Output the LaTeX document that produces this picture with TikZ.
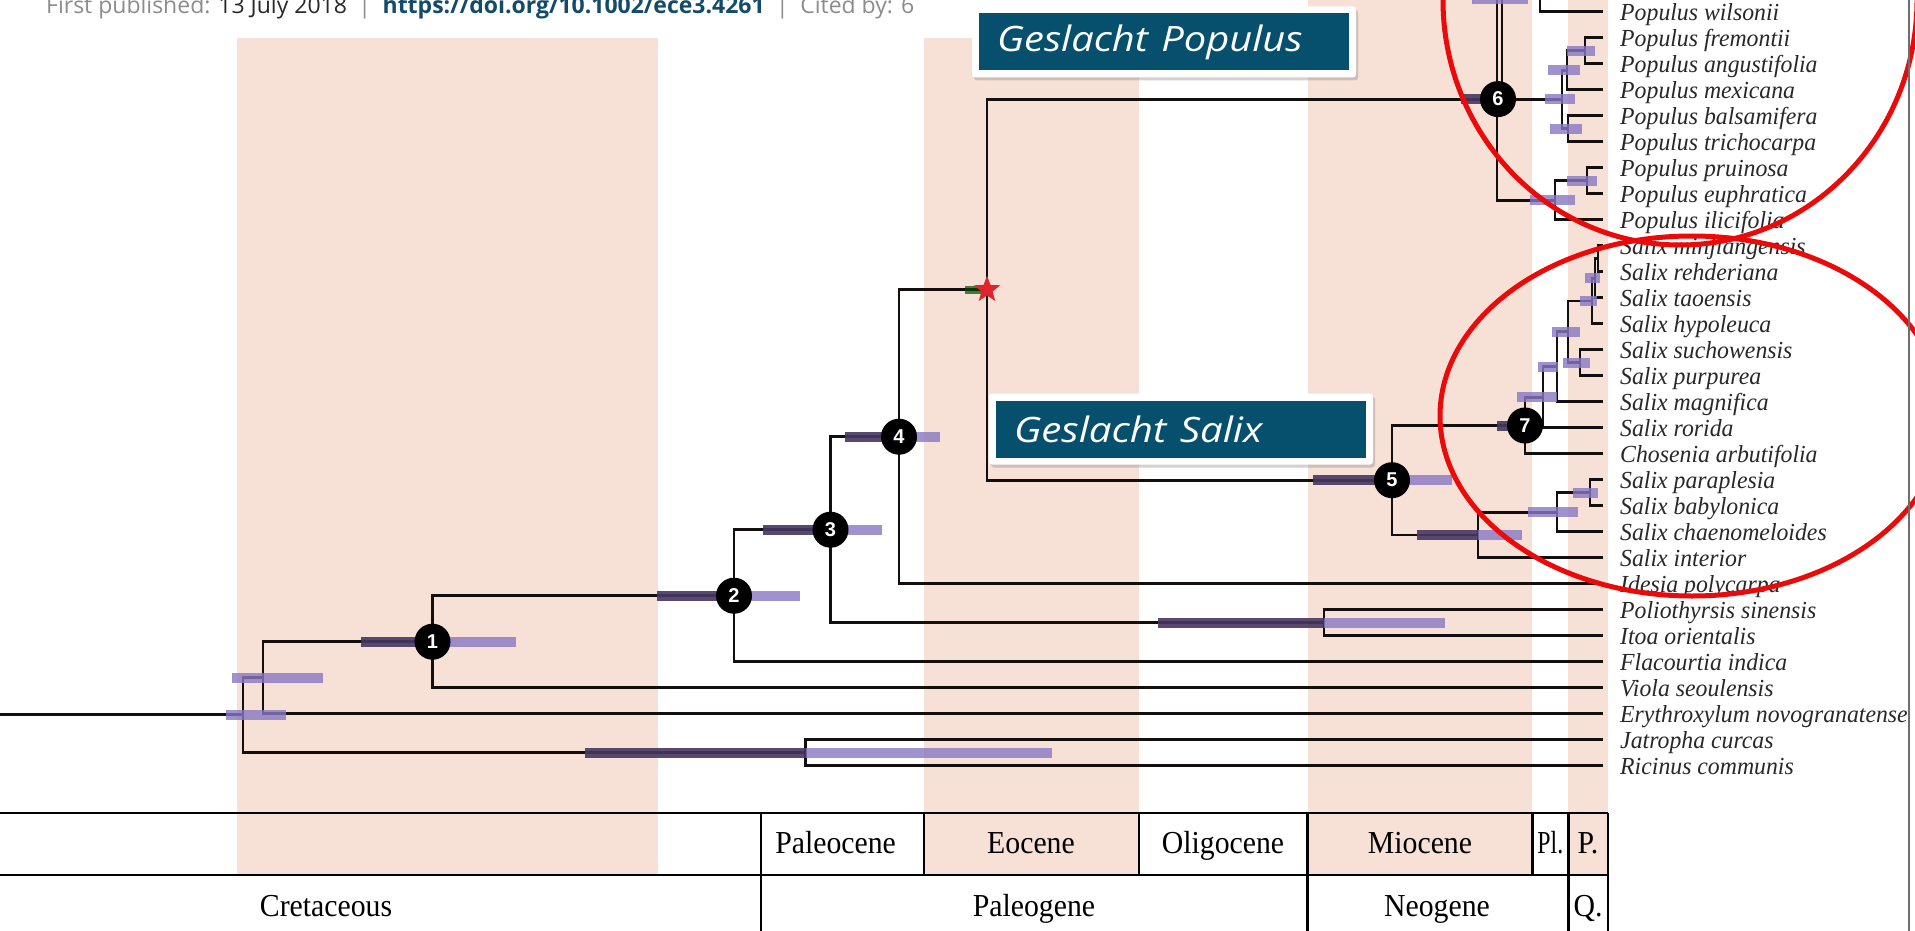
\documentclass[tikz,border=0pt]{standalone}
\usepackage{graphicx}
\usepackage{fontspec}
\setmainfont{Liberation Serif}
\newfontfamily\spfont[FakeStretch=0.97]{Liberation Serif}
\newfontfamily\tsfont[FakeStretch=0.93]{Liberation Serif}
\newfontfamily\hdfont{Open Sans}
\newfontfamily\gsfont{Open Sans}
\newfontfamily\nmfont{Liberation Sans}
\usetikzlibrary{shapes.geometric,shadows}
\definecolor{band}{RGB}{247,224,213}
\definecolor{barlight}{RGB}{135,120,195}
\definecolor{bardark}{RGB}{70,55,95}
\definecolor{gbox}{RGB}{6,80,110}
\definecolor{linkc}{RGB}{20,75,105}
\definecolor{hdgray}{RGB}{140,140,140}
\definecolor{hdtext}{RGB}{40,40,40}
\definecolor{branch}{RGB}{20,15,15}
\definecolor{ered}{RGB}{235,10,10}
\definecolor{sptext}{RGB}{40,40,40}
\newcommand{\hpdbar}[4]{%
  \fill[bardark,opacity=0.9] (#1,#4-5) rectangle (#2,#4+5);
  \fill[barlight,opacity=0.8] (#2,#4-5) rectangle (#3,#4+5);
}
\tikzset{
  br/.style={draw=branch,line width=2.9},
  tiplabel/.style={anchor=base west,inner sep=0,text=sptext,font=\spfont\itshape\fontsize{24.5}{24.5}\selectfont},
  numnode/.style={circle,fill=black,minimum size=36,inner sep=0,text=white,font=\nmfont\bfseries\fontsize{20}{20}\selectfont},
  tslabel/.style={anchor=base,inner sep=0,font=\tsfont\fontsize{32}{32}\selectfont},
  tsline/.style={draw=black,line width=2.4},
  wframe/.style={fill=white,rounded corners=3,minimum width=384,minimum height=71,inner sep=0,drop shadow={shadow xshift=2pt,shadow yshift=-3pt,opacity=0.35}},
  gboxs/.style={fill=gbox,text=white,minimum height=57,text width=334,inner xsep=18,inner ysep=0,align=left,font=\gsfont\itshape\fontsize{35}{35}\selectfont},
  redring/.style={draw=ered,line width=5}
}
\begin{document}
\begin{tikzpicture}[x=1pt,y=-1pt]
\useasboundingbox (0,0) rectangle (1915,931);
\clip (0,0) rectangle (1915,931);
\fill[white] (0,0) rectangle (1915,931);
% bands
\fill[band] (237,38) rectangle (658,875);
\fill[band] (923.7,38) rectangle (1138.8,875);
\fill[band] (1307.5,0) rectangle (1532.4,875);
\fill[band] (1568.3,0) rectangle (1608,875);
% header
\node[anchor=base west,inner sep=0] (hdr) at (46,14) {\hdfont\fontsize{23}{23}\selectfont\color{hdgray}First published: \color{hdtext}13 July 2018\color{hdgray}\enspace|\enspace \textbf{\color{linkc}https://doi.org/10.1002/ece3.4261}\color{hdgray}\enspace|\enspace Cited by: 6};
% time scale
\draw[tsline] (0,813) -- (1608,813);
\draw[tsline] (0,875) -- (1608,875);
\draw[tsline] (761,813) -- (761,931);
\draw[tsline] (923.7,813) -- (923.7,875);
\draw[tsline] (1138.8,813) -- (1138.8,875);
\draw[tsline] (1307.5,813) -- (1307.5,931);
\draw[tsline] (1532.4,813) -- (1532.4,875);
\draw[tsline] (1568.3,813) -- (1568.3,931);
\draw[tsline] (1608,813) -- (1608,931);
\node[tslabel] (paleoc) at (835.6,853.5) {Paleocene};
\node[tslabel] (eoc) at (1031,853.5) {Eocene};
\node[tslabel] (oligoc) at (1223,853.5) {Oligocene};
\node[tslabel] (mioc) at (1420,853.5) {Miocene};
\node[tslabel] (plio) at (1550.3,853.5) {\scalebox{0.8}[1]{Pl.}};
\node[tslabel] (pleis) at (1588,853.5) {P.};
\node[tslabel] (cret) at (326,916) {Cretaceous};
\node[tslabel] (paleog) at (1034,916) {Paleogene};
\node[tslabel] (neog) at (1437,916) {Neogene};
\node[tslabel] (quat) at (1588,916) {Q.};
% tip coordinates and labels
\foreach \k/\nm in {1/Populus wilsonii,2/Populus fremontii,3/Populus angustifolia,4/Populus mexicana,5/Populus balsamifera,6/Populus trichocarpa,7/Populus pruinosa,8/Populus euphratica,9/Populus ilicifolia,10/Salix minjiangensis,11/Salix rehderiana,12/Salix taoensis,13/Salix hypoleuca,14/Salix suchowensis,15/Salix purpurea,16/Salix magnifica,17/Salix rorida,18/Chosenia arbutifolia,19/Salix paraplesia,20/Salix babylonica,21/Salix chaenomeloides,22/Salix interior,23/Idesia polycarpa,24/Poliothyrsis sinensis,25/Itoa orientalis,26/Flacourtia indica,27/Viola seoulensis,28/Erythroxylum novogranatense,29/Jatropha curcas,30/Ricinus communis}{
  \coordinate (t\k) at (1603,{11.7+26*(\k-1)});
  \node[tiplabel] (l\k) at (1620,{20.2+26*(\k-1)}) {\nm};
}
% internal node coordinates
\coordinate (FA) at (1585,50.7);
\coordinate (FAM) at (1567,70.2);
\coordinate (BT) at (1568,128.7);
\coordinate (M2) at (1562,99.1);
\coordinate (PE) at (1587,180.7);
\coordinate (PEI) at (1555,200.2);
\coordinate (n6) at (1497,99.1);
\coordinate (n6top) at (1497,-14);
\coordinate (n6b) at (1502,99.1);
\coordinate (n6btop) at (1502,-14);
\coordinate (W) at (1540,-14);
\coordinate (a) at (1598,258.7);
\coordinate (b) at (1595,278.2);
\coordinate (c) at (1592,300.95);
\coordinate (SP) at (1580,362.7);
\coordinate (d) at (1568,331.8);
\coordinate (e) at (1557,366.75);
\coordinate (f) at (1543,397.2);
\coordinate (n7) at (1525,425.5);
\coordinate (i) at (1590,492.7);
\coordinate (h) at (1557,512.2);
\coordinate (g) at (1478,534.95);
\coordinate (n5) at (1392,480.2);
\coordinate (st) at (987,289.65);
\coordinate (n4) at (899,436.7);
\coordinate (PI) at (1324,622.7);
\coordinate (n3) at (830.5,529.7);
\coordinate (n2) at (734,595.7);
\coordinate (n1) at (432.5,641.7);
\coordinate (X) at (263,677.7);
\coordinate (JR) at (805.6,752.7);
\coordinate (root) at (243,714.5);
\coordinate (rootin) at (-5,714.5);
% branches
\draw[br] (rootin) -- (root);
\draw[br] (root) |- (X) (root) |- (JR);
\draw[br] (JR) |- (t29) (JR) |- (t30);
\draw[br] (X) |- (n1) (X) |- (t28);
\draw[br] (n1) |- (n2) (n1) |- (t27);
\draw[br] (n2) |- (n3) (n2) |- (t26);
\draw[br] (n3) |- (n4) (n3) |- (PI);
\draw[br] (PI) |- (t24) (PI) |- (t25);
\draw[br] (n4) |- (st) (n4) |- (t23);
\draw[br] (st) |- (n6) (st) |- (n5);
\draw[br] (n5) |- (n7) (n5) |- (g);
\draw[br] (n7) |- (f) (n7) |- (t18);
\draw[br] (f) |- (e) (f) |- (t17);
\draw[br] (e) |- (d) (e) |- (t16);
\draw[br] (d) |- (c) (d) |- (SP);
\draw[br] (c) |- (b) (c) |- (t13);
\draw[br] (b) |- (a) (b) |- (t12);
\draw[br] (a) |- (t10) (a) |- (t11);
\draw[br] (SP) |- (t14) (SP) |- (t15);
\draw[br] (g) |- (h) (g) |- (t22);
\draw[br] (h) |- (i) (h) |- (t21);
\draw[br] (i) |- (t19) (i) |- (t20);
\draw[br] (n6top) -- (n6) |- (PEI);
\draw[br] (n6btop) -- (n6b);
\draw[br] (n6) -- (M2);
\draw[br] (M2) |- (FAM) (M2) |- (BT);
\draw[br] (FAM) |- (FA) (FAM) |- (t4);
\draw[br] (FA) |- (t2) (FA) |- (t3);
\draw[br] (BT) |- (t5) (BT) |- (t6);
\draw[br] (PEI) |- (PE) (PEI) |- (t9);
\draw[br] (PE) |- (t7) (PE) |- (t8);
\draw[br] (W) |- (t1);
% HPD bars
\hpdbar{226}{226}{286}{714.5}
\hpdbar{232}{232}{323}{677.7}
\hpdbar{361}{432.5}{516}{641.7}
\hpdbar{657}{734}{800}{595.7}
\hpdbar{763}{830.5}{882}{529.7}
\hpdbar{845}{899}{940}{436.7}
\hpdbar{1158}{1324}{1445}{622.7}
\hpdbar{585}{805.6}{1052}{752.7}
\fill[green!30!black,opacity=0.7] (965,285.65) rectangle (987,293.65);
\hpdbar{1313}{1392}{1452}{480.2}
\hpdbar{1417}{1478}{1522}{534.95}
\hpdbar{1461}{1497}{1497}{99.1}
\hpdbar{1497}{1525}{1525}{425.5}
\hpdbar{1517}{1517}{1557}{397.2}
\hpdbar{1538}{1538}{1558}{366.75}
\hpdbar{1552}{1552}{1580}{331.8}
\hpdbar{1563}{1563}{1590}{362.7}
\hpdbar{1580}{1580}{1597}{300.95}
\hpdbar{1585}{1585}{1600}{278.2}
\hpdbar{1528}{1528}{1578}{512.2}
\hpdbar{1573}{1573}{1598}{492.7}
\hpdbar{1545}{1545}{1575}{99.1}
\hpdbar{1548}{1548}{1580}{70.2}
\hpdbar{1567}{1567}{1595}{50.7}
\hpdbar{1550}{1550}{1582}{128.7}
\hpdbar{1530}{1530}{1575}{200.2}
\hpdbar{1567}{1567}{1597}{180.7}
\hpdbar{1472}{1472}{1528}{-1}
% numbered nodes
\node[numnode] (c1) at (n1) {1};
\node[numnode] (c2) at (n2) {2};
\node[numnode] (c3) at (n3) {3};
\node[numnode] (c4) at (n4) {4};
\node[numnode] (c5) at (n5) {5};
\node[numnode] (c6) at (1498,99.1) {6};
\node[numnode] (c7) at (n7) {7};
\node[star,star points=5,star point ratio=2.4,fill={rgb,255:red,225;green,35;blue,45},minimum size=28,inner sep=0] (stsym) at (st) {};
% genus boxes
\node[wframe] (gpf) at (1164,42) {};
\node[gboxs] (gp) at (1164,42) {\scalebox{1.14}[1]{Geslacht Populus}};
\node[wframe] (gsf) at (1181,429) {};
\node[gboxs] (gs) at (1181,429) {\scalebox{1.15}[1]{Geslacht Salix}};
% red rings
\draw[redring] (1680,0) ellipse [x radius=237,y radius=245];
\draw[redring] (1692,416) ellipse [x radius=252,y radius=180];
% right border
\draw[draw={rgb,255:red,110;green,110;blue,110},line width=2] (1909,0) -- (1909,931);
\end{tikzpicture}
\end{document}
